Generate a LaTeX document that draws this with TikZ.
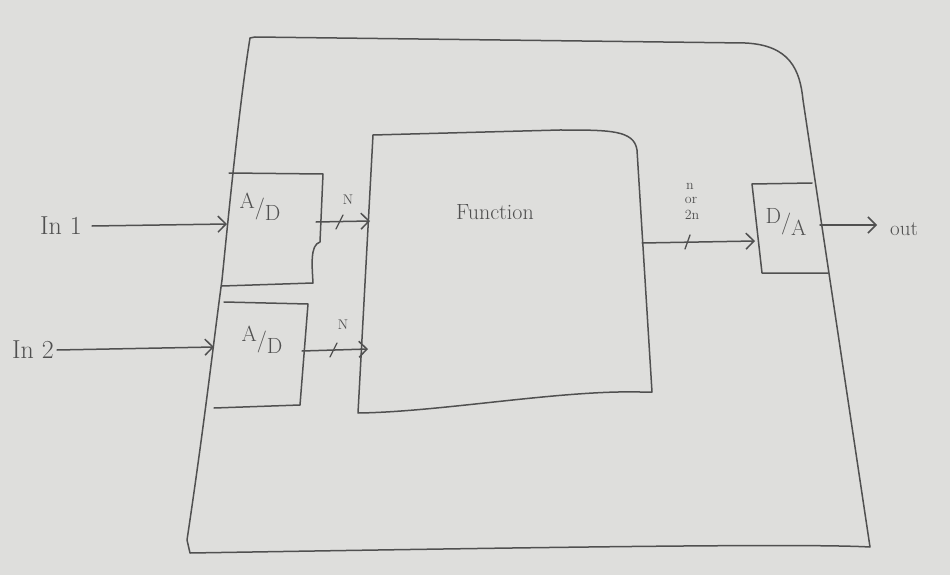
\documentclass[tikz,border=0pt]{standalone}
\usetikzlibrary{arrows.meta}
\definecolor{paper}{HTML}{DEDEDC}
\definecolor{ink}{HTML}{505050}
\begin{document}
\begin{tikzpicture}[x=1pt,y=-1pt,
  pen/.style={draw=ink,line width=1.5pt,line join=round,line cap=round},
  arr/.style={pen,-{Straight Barb[length=8pt,width=16pt,line width=1.5pt]}},
  lbl/.style={text=ink,inner sep=0pt,font=\fontsize{26}{28}\selectfont},
  frac/.style={text=ink,inner sep=0pt,font=\fontsize{22}{22}\selectfont},
  small/.style={text=ink,inner sep=0pt,font=\fontsize{14}{14}\selectfont},
  tick/.style={pen,line width=1.3pt}]
\fill[paper] (0,0) rectangle (950,575);
\useasboundingbox (0,0) rectangle (950,575);
% outer box
\draw[pen] (250,38) -- (255,37) -- (745,43) .. controls (790,45) and (800,70) .. (803,100) -- (870,547)
  .. controls (800,543) and (500,548) .. (190,553) -- (187,540)
  .. controls (205,420) and (215,330) .. (222,280) .. controls (230,200) and (240,100) .. cycle;
% A/D 1
\draw[pen] (229,173) -- (323,174) -- (320,242) .. controls (310,245) and (312,265) .. (313,283) -- (222,286);
\node[frac] (ad1) at (260,207) {\raisebox{6pt}{A}/\raisebox{-6pt}{D}};
% A/D 2
\draw[pen] (224,302) -- (308,304) -- (300,405) -- (214,408);
\node[frac] (ad2) at (262,340) {\raisebox{6pt}{A}/\raisebox{-6pt}{D}};
% Function box
\draw[pen] (373,135) -- (560,130) .. controls (610,130) and (634,130) .. (637,150) -- (652,392) -- (640,392)
  .. controls (560,390) and (440,412) .. (358,413) -- cycle;
\node[text=ink,inner sep=0pt,font=\fontsize{22}{22}\selectfont] (fn) at (495,212) {Function};
% D/A box
\draw[pen] (752,184) -- (812,183);
\draw[pen] (752,184) -- (762,273) -- (828,273);
\node[frac] (da) at (786,222) {\raisebox{6pt}{D}/\raisebox{-6pt}{A}};
% inputs
\node[lbl,anchor=west] (in1) at (40,226) {In 1};
\node[lbl,anchor=west] (in2) at (12,350) {In 2};
\coordinate (a1in) at (227,224);
\coordinate (a2in) at (214,347);
\draw[arr] ([xshift=10pt]in1.east) -- (a1in);
\draw[arr] ([xshift=3pt]in2.east) -- (a2in);
% A/D outputs
\coordinate (a1out) at (316,222);
\coordinate (f1) at (370,221);
\coordinate (a2out) at (302,351);
\coordinate (f2) at (368,349);
\draw[arr] (a1out) -- (f1);
\draw[arr] (a2out) -- (f2);
\draw[tick] (336,229) -- (343,215);
\draw[tick] (330,357) -- (337,343);
\node[small] (n1) at (348,200) {N};
\node[small] (n2) at (343,325) {N};
% function output
\coordinate (fout) at (642,243);
\coordinate (dain) at (755,241);
\draw[arr] (fout) -- (dain);
\draw[tick] (685,249) -- (690,235);
\node[small,font=\fontsize{14}{14}\selectfont] (nn) at (690,186) {n};
\node[small,font=\fontsize{14}{14}\selectfont] (nor) at (691,200) {or};
\node[small,font=\fontsize{14}{14}\selectfont] (n2n) at (692,215) {2n};
% output
\coordinate (daout) at (820,225);
\coordinate (oend) at (877,225);
\draw[arr] (daout) -- (oend);
\node[text=ink,inner sep=0pt,anchor=west,font=\fontsize{21}{21}\selectfont] (out) at (890,229) {out};
\end{tikzpicture}
\end{document}
